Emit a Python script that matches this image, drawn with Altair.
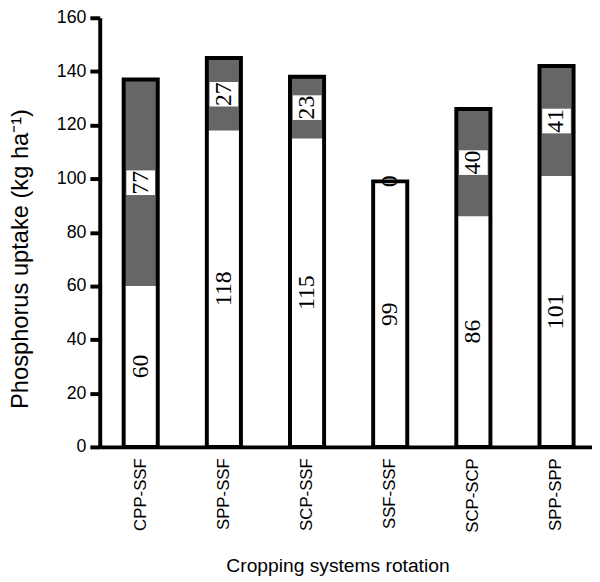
import altair as alt
import pandas as pd

categories = ["CPP-SSF", "SPP-SSF", "SCP-SSF", "SSF-SSF", "SCP-SCP", "SPP-SPP"]
lower_values = [60, 118, 115, 99, 86, 101]
upper_values = [77, 27, 23, 0, 40, 41]
y_ticks = [0, 20, 40, 60, 80, 100, 120, 140, 160]

df = pd.DataFrame({"cat": categories, "lower": lower_values, "upper": upper_values})

x_enc = alt.X(
    "cat:N",
    sort=categories,
    scale=alt.Scale(paddingInner=0.59, paddingOuter=0.2545, align=0.565),
    axis=alt.Axis(
        title="Cropping systems rotation",
        domainColor="black", domainWidth=4, ticks=False,
        labelAngle=270, labelAlign="right", labelBaseline="middle",
        labelFont="Liberation Sans", labelFontSize=17, labelColor="black",
        labelPadding=11,
        titleFont="Liberation Sans", titleFontSize=19.5, titleFontWeight="normal",
        titleColor="black", titleX=241, titleY=126, titleBaseline="alphabetic",
        titleAlign="center",
    ),
)
y_scale = alt.Scale(domain=[0, 160], nice=False)
y_axis = alt.Axis(
    title="Phosphorus uptake (kg ha\u207b\u00b9)",
    values=y_ticks, grid=False,
    domainColor="black", domainWidth=4,
    tickColor="black", tickWidth=4, tickSize=10,
    labelFont="Liberation Sans", labelFontSize=18, labelColor="black", labelPadding=4,
    titleFont="Liberation Sans", titleFontSize=24, titleFontWeight="normal",
    titleColor="black", titleAngle=270, titleX=-80, titleY=244,
    titleBaseline="middle", titleAlign="center",
)

base = alt.Chart(df).transform_calculate(
    total="datum.lower + datum.upper",
    mid_low="datum.lower / 2",
    mid_up="datum.lower + datum.upper / 2",
)

full_bar = base.mark_bar(fill="white").encode(
    x=x_enc,
    y=alt.Y("total:Q", scale=y_scale, axis=y_axis),
    y2=alt.Y2(datum=0),
)

upper_bar = base.transform_filter("datum.upper > 0").mark_bar(fill="#666666").encode(
    x=alt.X("cat:N", sort=categories),
    y=alt.Y("total:Q"),
    y2=alt.Y2("lower:Q"),
)

outline = base.mark_bar(fill="white", fillOpacity=0, stroke="black", strokeWidth=4).encode(
    x=alt.X("cat:N", sort=categories),
    y=alt.Y("total:Q"),
    y2=alt.Y2(datum=0),
)

boxes = base.transform_filter("datum.upper > 0").mark_tick(
    color="white", thickness=25, size=29, opacity=1
).encode(
    x=alt.X("cat:N", sort=categories),
    y=alt.Y("mid_up:Q"),
)

low_text = base.mark_text(
    angle=270, font="Liberation Serif", fontSize=24, baseline="middle", align="center", color="black"
).encode(
    x=alt.X("cat:N", sort=categories),
    y=alt.Y("mid_low:Q"),
    text=alt.Text("lower:Q"),
)

up_text = base.mark_text(
    angle=270, font="Liberation Serif", fontSize=24, baseline="middle", align="center", color="black"
).encode(
    x=alt.X("cat:N", sort=categories),
    y=alt.Y("mid_up:Q"),
    text=alt.Text("upper:Q"),
)

chart = alt.layer(full_bar, upper_bar, outline, boxes, low_text, up_text).properties(
    width=499,
    height=435,
    autosize=alt.AutoSizeParams(type="none"),
    padding={"left": 93, "top": 6, "right": 0, "bottom": 130},
    background="white",
).configure_view(stroke=None)

chart.save("out.html", embed_options={"renderer": "svg", "actions": False})
